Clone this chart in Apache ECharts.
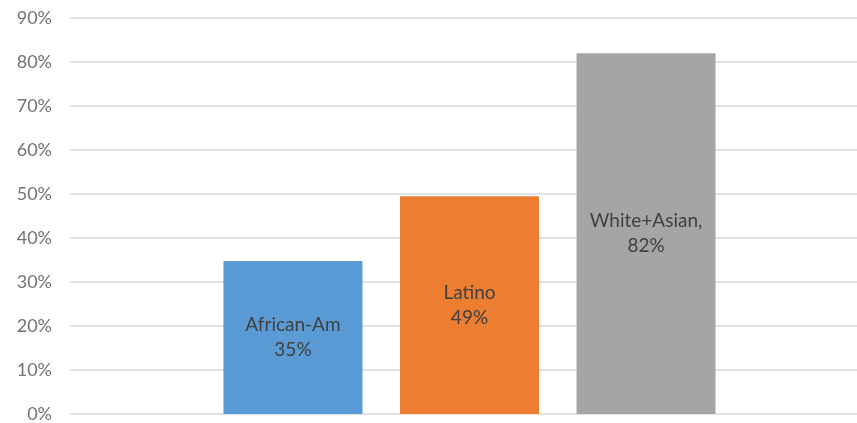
<!DOCTYPE html>
<html>
<head>
<meta charset="utf-8">
<script src="https://cdn.jsdelivr.net/npm/echarts@6/dist/echarts.min.js"></script>
<style>
  html, body { margin: 0; padding: 0; background: #fff; overflow: hidden; }
  #chart { width: 869px; height: 423px; }
</style>
</head>
<body>
<div id="chart"></div>
<script>
// data
const groups = ['African-Am', 'Latino', 'White+Asian'];
const values = [34.8, 49.5, 82.0];
const labelNames = ['African-Am', 'Latino', 'White+Asian,'];
const labelPcts = ['35%', '49%', '82%'];
const colors = ['#5B9BD5', '#ED7D31', '#A5A5A5'];
const yTicks = [0, 10, 20, 30, 40, 50, 60, 70, 80, 90];

let myChart = echarts.init(document.getElementById('chart'));

let series = groups.map((g, i) => ({
    name: g,
    type: 'bar',
    barWidth: 139,
    barGap: '27%',
    itemStyle: { color: colors[i] },
    label: {
        show: true,
        position: 'inside',
        formatter: labelNames[i] + '\n' + labelPcts[i],
        color: '#404040',
        fontSize: 19,
        lineHeight: 25,
        fontFamily: 'Lato'
    },
    data: [values[i]]
}));

// the original is cropped on the right, so the chart is a bit wider than the window
let option = {
    animation: false,
    grid: {
        top: 18,
        left: 70,
        right: 0,
        bottom: 8,
        containLabel: false
    },
    xAxis: {
        type: 'category',
        data: [''],
        axisTick: { show: false },
        axisLabel: { show: false },
        axisLine: { show: false }
    },
    yAxis: {
        type: 'value',
        min: yTicks[0],
        max: yTicks[yTicks.length - 1],
        interval: 10,
        axisLabel: {
            formatter: '{value}%',
            color: '#737373',
            fontSize: 18,
            fontFamily: 'Lato',
            margin: 18
        },
        axisLine: { show: false },
        axisTick: { show: false },
        splitLine: { lineStyle: { color: '#D9D9D9', width: 1.5 } }
    },
    series: series
};
myChart.setOption(option);
</script>
</body>
</html>
